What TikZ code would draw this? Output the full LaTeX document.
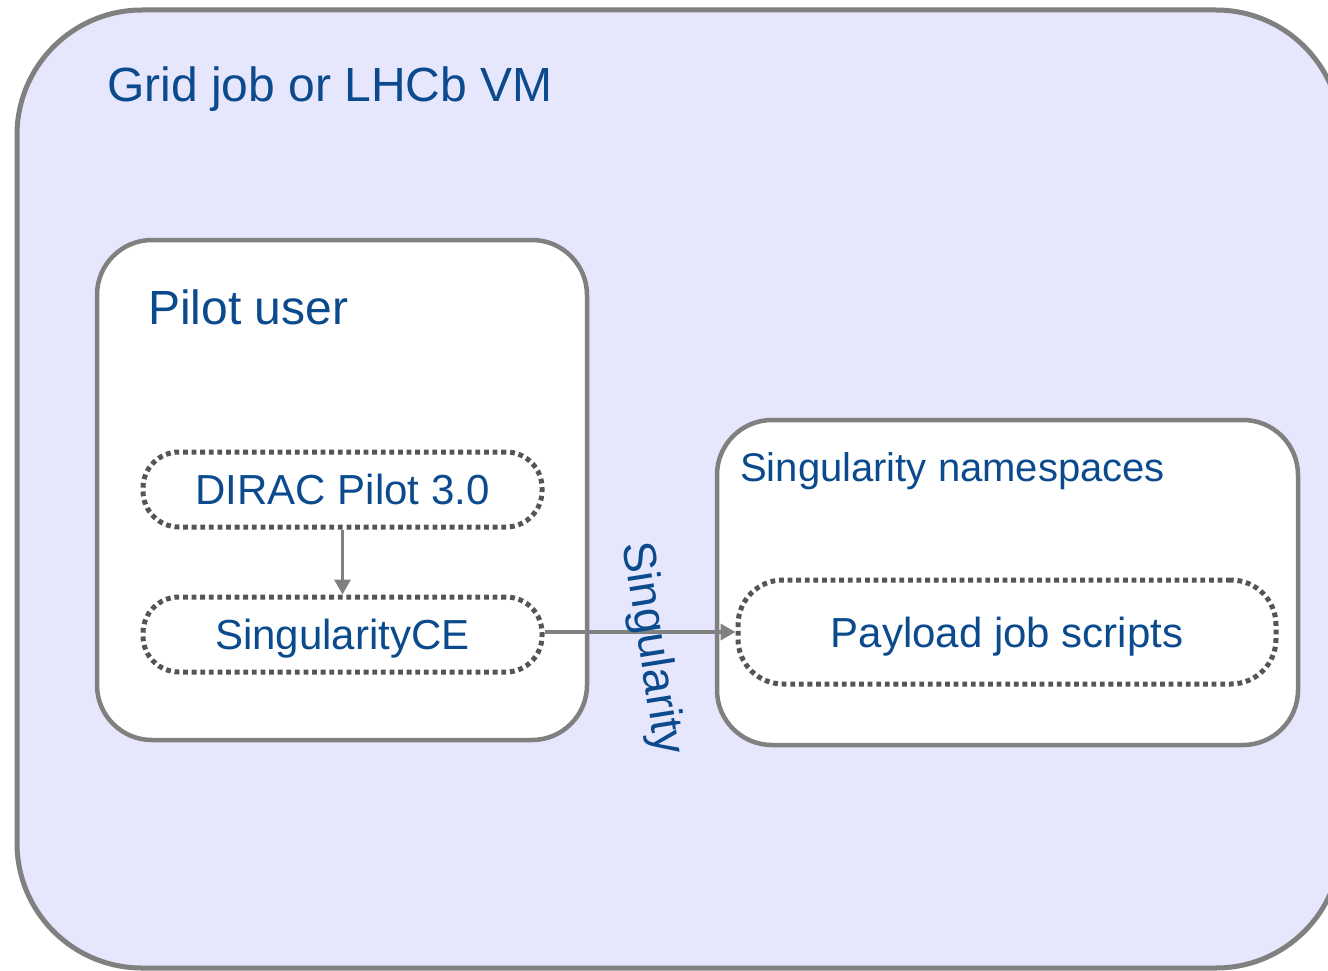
\documentclass[tikz,border=0pt]{standalone}
\usepackage{fontspec}
\setmainfont{Liberation Sans}
\usetikzlibrary{arrows.meta}
\definecolor{lav}{HTML}{E6E6FC}
\definecolor{edgegrey}{HTML}{808080}
\definecolor{dotgrey}{HTML}{555555}
\definecolor{txtblue}{HTML}{0B4A8C}
\tikzset{
  box/.style={draw=edgegrey, line width=4.5pt, fill=white},
  pill/.style={draw=dotgrey, line width=5pt, dash pattern=on 4.8pt off 3.8pt, fill=white,
    rounded corners=36pt, text=txtblue, font=\fontsize{42}{50}\selectfont,
    text height=30pt, text depth=0pt, inner sep=0pt},
  lbl/.style={text=txtblue, inner sep=0pt},
  conn/.style={draw=edgegrey, line width=3.5pt, -{Triangle[width=16pt,length=15pt]}},
}
\begin{document}
\begin{tikzpicture}[x=1pt,y=-1pt]
\useasboundingbox (0,0) rectangle (1328,971);
\clip (0,0) rectangle (1328,971);
% outer box
\draw[draw=edgegrey, line width=5pt, fill=lav, rounded corners=125pt] (17,10) rectangle (1341,968);
\node[lbl, anchor=base west, font=\fontsize{48}{58}\selectfont] (gridlbl) at (107,102) {Grid job or LHCb VM};
% pilot user box
\draw[box, rounded corners=55pt] (97,240) rectangle (587,740);
\node[lbl, anchor=base west, font=\fontsize{48}{58}\selectfont] (pilotlbl) at (148,324) {Pilot user};
% namespaces box
\draw[box, rounded corners=55pt] (717,420) rectangle (1298,745);
\node[lbl, anchor=base west, font=\fontsize{40}{48}\selectfont] (nslbl) at (740,481) {Singularity namespaces};
% pills
\node[pill, minimum width=399pt, minimum height=75pt] (dirac) at (342.5,489.5) {DIRAC Pilot 3.0};
\node[pill, minimum width=399pt, minimum height=75pt] (sce) at (342.5,634.5) {SingularityCE};
\node[pill, minimum width=538pt, minimum height=104pt, rounded corners=45pt] (payload) at (1007,632) {Payload job scripts};
% connectors
\draw[conn] (dirac.south) -- (sce.north);
\draw[conn] (sce.east |- payload.west) -- (payload.west);
\node[lbl, rotate=-81, font=\fontsize{46}{55}\selectfont, text height=33pt, text depth=0pt] (singlbl) at (656,648) {Singularity};
\end{tikzpicture}
\end{document}
